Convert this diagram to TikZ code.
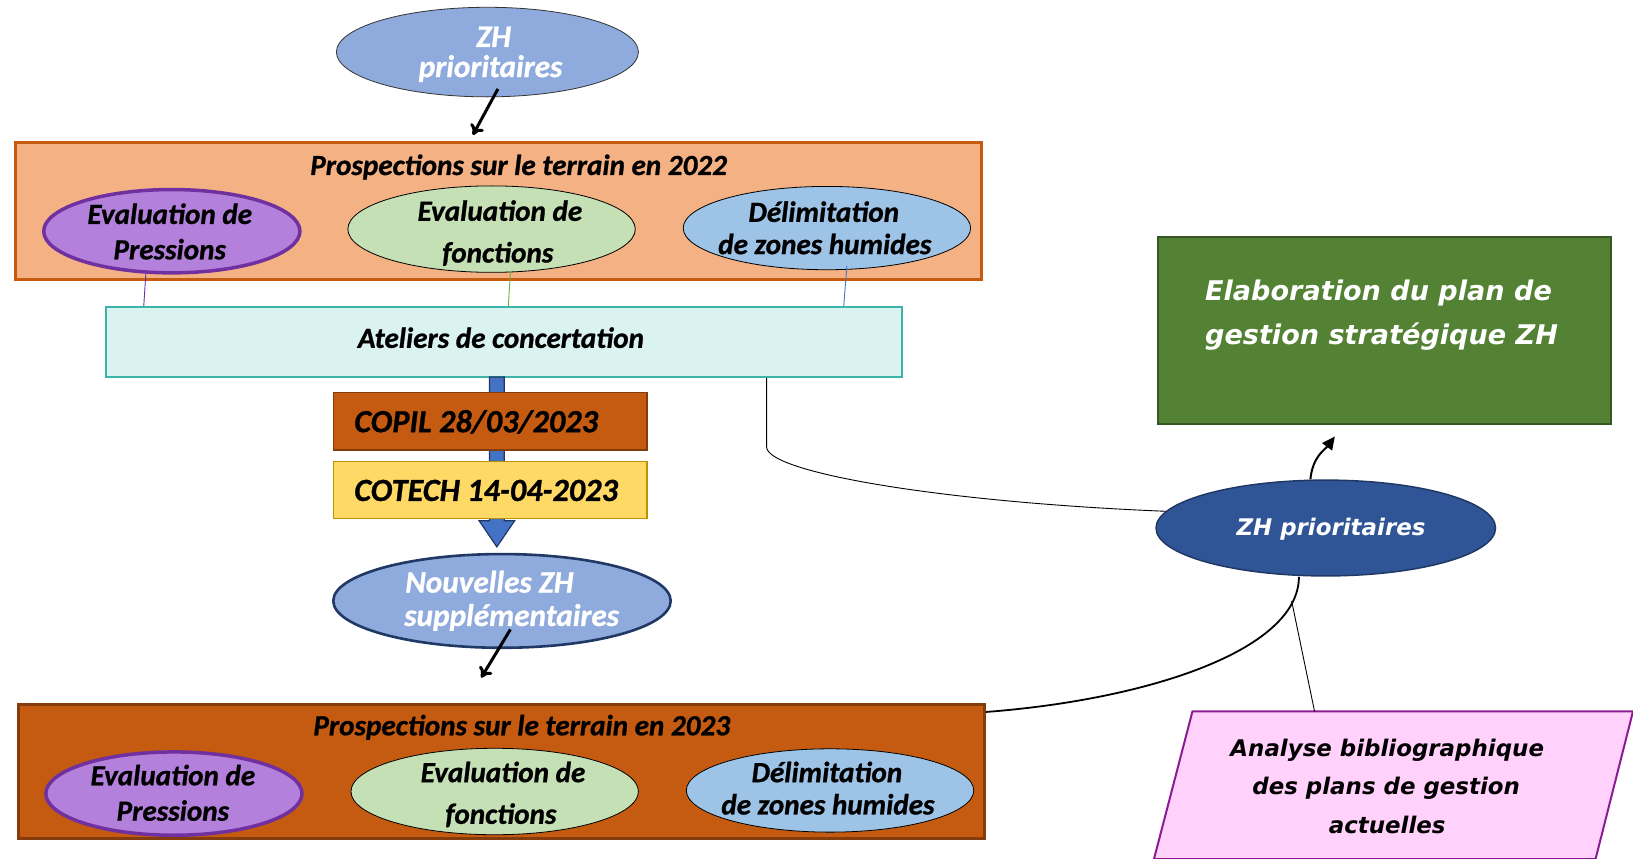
\documentclass[tikz,border=0pt]{standalone}
\usepackage{fontspec}
\setmainfont{Carlito}[BoldItalicFeatures={FakeBold=0.9}]
\newfontfamily\dvs[BoldItalicFont={DejaVu Sans Bold Oblique}]{DejaVu Sans}
\usetikzlibrary{arrows.meta,calc,shapes.geometric}
\definecolor{cOrangeL}{HTML}{F4B183}
\definecolor{cOrange}{HTML}{C55A11}
\definecolor{cBrownD}{HTML}{843C0C}
\definecolor{cPurple}{HTML}{B381DB}
\definecolor{cPurpleD}{HTML}{7030A0}
\definecolor{cGreenL}{HTML}{C5E0B4}
\definecolor{cBlueL}{HTML}{9DC3E6}
\definecolor{cBlueM}{HTML}{8FAADC}
\definecolor{cNavy}{HTML}{1F3864}
\definecolor{cBlue}{HTML}{4472C4}
\definecolor{cBlueD}{HTML}{2F5597}
\definecolor{cTealL}{HTML}{DAF3F0}
\definecolor{cTeal}{HTML}{3DB5AA}
\definecolor{cYellow}{HTML}{FFD966}
\definecolor{cGold}{HTML}{BF9000}
\definecolor{cGreen}{HTML}{548235}
\definecolor{cGreenD}{HTML}{385723}
\definecolor{cPink}{HTML}{FFD1FB}
\definecolor{cPinkD}{HTML}{8B1A93}
\definecolor{cGreenLine}{HTML}{70AD47}
\begin{document}
\begin{tikzpicture}[x=1pt,y=-1pt,scale=1.0415,every node/.append style={transform shape},
  lbl/.style={inner sep=0pt, anchor=base, font=\fontsize{28}{28}\selectfont\bfseries\itshape},
  wlbl/.style={inner sep=0pt, anchor=base, text=white, font=\fontsize{30}{30}\selectfont\bfseries\itshape},
  big/.style={inner sep=0pt, anchor=base west, font=\fontsize{31}{31}\selectfont\bfseries\itshape},
  rlbl/.style={inner sep=0pt, anchor=base, font=\dvs\fontsize{22}{22}\selectfont\bfseries\itshape},
  glbl/.style={inner sep=0pt, anchor=base west, text=white, font=\dvs\fontsize{26}{26}\selectfont\bfseries\itshape},
  box/.style={rectangle, draw, inner sep=0pt},
  ell/.style={ellipse, draw, inner sep=0pt},
  pell/.style={ell, fill=cPurple, draw=cPurpleD, line width=3.5pt, minimum width=246pt, minimum height=80pt},
  gell/.style={ell, fill=cGreenL, draw=black, line width=0.8pt, minimum width=276pt, minimum height=83pt},
  bell/.style={ell, fill=cBlueL, draw=black, line width=0.8pt, minimum width=276pt, minimum height=80pt},
  blk/.style={line width=3pt, -{To[length=10pt,width=15pt]}},
  thin/.style={line width=0.9pt}
]
\useasboundingbox (0,0) rectangle (1568,824.8);

% ---- top ellipse
\node[ell, fill=cBlueM, draw=black!80, line width=0.8pt, minimum width=290pt, minimum height=86pt] (top) at (468,50) {};
\node[wlbl] (tz1) at (474,45) {ZH};
\node[wlbl] (tz2) at (471,74) {prioritaires};

% ---- 2022 box
\node[box, fill=cOrangeL, draw=cOrange, line width=3pt, minimum width=927pt, minimum height=131pt] (b22) at (478.5,202.5) {};
\node[lbl] (t22) at (498,168) {Prospections sur le terrain en 2022};
\node[pell] (p22) at (165,222) {};
\node[gell] (g22) at (472,220) {};
\node[bell] (d22) at (794,219) {};
\node[lbl] (p22a) at (163,215) {Evaluation de};
\node[lbl] (p22b) at (163,249) {Pressions};
\node[lbl] (g22a) at (480,212) {Evaluation de};
\node[lbl] (g22b) at (478,252) {fonctions};
\node[lbl] (d22a) at (791,213) {Délimitation};
\node[lbl] (d22b) at (792,244) {de zones humides};

\draw[blk] ([xshift=10pt,yshift=8pt]top.south) -- ([xshift=-24.5pt,yshift=6pt]b22.north);

% ---- Ateliers
\node[box, fill=cTealL, draw=cTeal, line width=2.2pt, minimum width=764pt, minimum height=67pt] (at) at (484,328.5) {};
\node[lbl] (att) at (481,334) {Ateliers de concertation};

\draw[thin, draw=cPurpleD] ([xshift=-25pt,yshift=1pt]p22.south) -- ([xshift=-27pt]p22.south |- at.north);
\draw[thin, draw=cGreenLine] ([xshift=18pt,yshift=1pt]g22.south) -- ([xshift=16pt]g22.south |- at.north);
\draw[thin, draw=cBlue] ([xshift=19pt,yshift=4pt]d22.south) -- ([xshift=16pt]d22.south |- at.north);

% ---- block arrow
\coordinate (baTop) at (477,362);
\coordinate (baTip) at (477,525);
\draw[fill=cBlue, draw=cNavy, line width=1.2pt]
  ($(baTop)+(-7,0)$) -- ($(baTop)+(7,0)$) -- ($(baTip)+(7,-25)$) -- ($(baTip)+(17,-25)$)
  -- (baTip) -- ($(baTip)+(-17,-25)$) -- ($(baTip)+(-7,-25)$) -- cycle;

% ---- COPIL / COTECH
\node[box, fill=cOrange, draw=cBrownD, line width=1.5pt, minimum width=301pt, minimum height=55pt] (copil) at (470.5,404.5) {};
\node[big] (copt) at (340,415) {COPIL 28/03/2023};
\node[box, fill=cYellow, draw=cGold, line width=1.5pt, minimum width=301pt, minimum height=55pt] (cotech) at (470.5,470.5) {};
\node[big] (cott) at (340,481) {COTECH 14-04-2023};

% ---- Nouvelles ZH
\node[ell, fill=cBlueM, draw=cNavy, line width=2.6pt, minimum width=324pt, minimum height=90pt] (nz) at (482,577) {};
\node[wlbl, anchor=base west] (nz1) at (389,569) {Nouvelles ZH};
\node[wlbl, anchor=base west] (nz2) at (388,601) {supplémentaires};

% ---- 2023 box
\node[box, fill=cOrange, draw=cBrownD, line width=3pt, minimum width=927pt, minimum height=129pt] (b23) at (481.5,740.5) {};
\node[lbl] (t23) at (501,706) {Prospections sur le terrain en 2023};
\node[pell] (p23) at (167,762) {};
\node[gell] (g23) at (475,760) {};
\node[bell] (d23) at (797,759) {};
\node[lbl] (p23a) at (166,754) {Evaluation de};
\node[lbl] (p23b) at (166,788) {Pressions};
\node[lbl] (g23a) at (483,751) {Evaluation de};
\node[lbl] (g23b) at (481,791) {fonctions};
\node[lbl] (d23a) at (794,751) {Délimitation};
\node[lbl] (d23b) at (795,782) {de zones humides};

\draw[blk] ([xshift=8pt,yshift=19pt]nz.south) -- ([xshift=-19.5pt,yshift=24pt]b23.north);

% ---- right part
\node[box, fill=cGreen, draw=cGreenD, line width=2pt, minimum width=435pt, minimum height=179pt] (gb) at (1329.5,317.5) {};
\node[glbl] (gt1) at (1157,289) {Elaboration du plan de};
\node[glbl] (gt2) at (1157,331) {gestion stratégique ZH};

\node[ell, fill=cBlueD, draw=cNavy, line width=1.5pt, minimum width=326pt, minimum height=92pt] (zr) at (1273,507) {};
\node[rlbl, text=white] (zrt) at (1278,514) {ZH prioritaires};

\draw[line width=2pt, -{Triangle[length=13pt,width=12pt]}]
  ([xshift=-15pt]zr.north) .. controls +(2,-22) and +(-9,12) .. ([xshift=-48pt,yshift=-11pt]gb.south);

\draw[thin] ([xshift=252pt]at.south) -- ++(0,66) .. controls +(0,24) and (900,482) .. (zr.174);

\draw[line width=1.8pt] ([yshift=-9pt]b23.north east) .. controls (1100,672) and (1247,625) .. ([xshift=-26pt]zr.south);

\draw[fill=cPink, draw=cPinkD, line width=2pt] (1145,683) coordinate (paTL) -- (1568,683) coordinate (paTR)
  -- (1532,825) coordinate (paBR) -- (1108,825) coordinate (paBL) -- cycle;
\node[rlbl] (an1) at (1332,726) {Analyse bibliographique};
\node[rlbl] (an2) at (1331,763) {des plans de gestion};
\node[rlbl] (an3) at (1332,800) {actuelles};
\coordinate (paTop) at (1262,683);
\coordinate (cj) at (1240,577);
\draw[thin] (paTop) -- (cj);
\end{tikzpicture}
\end{document}
